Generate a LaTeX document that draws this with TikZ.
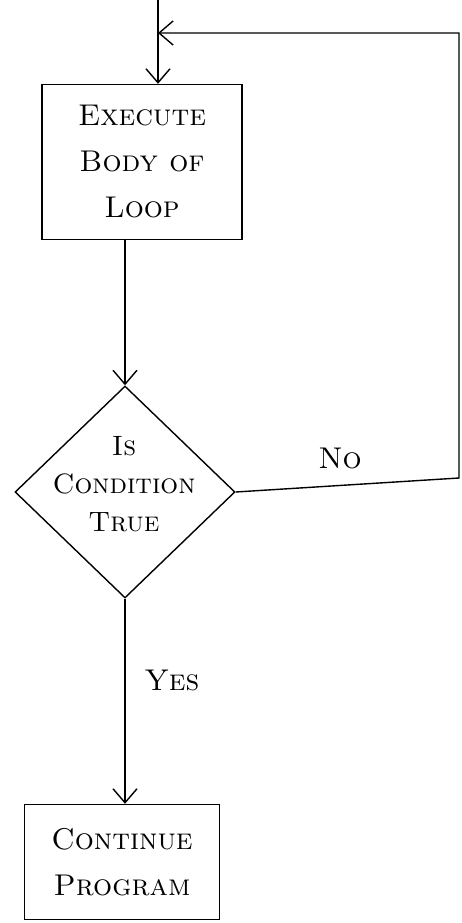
\documentclass[tikz,border=0pt]{standalone}
\usepackage{fontspec}
\usepackage{tikz}
\usetikzlibrary{
    shapes.geometric,
    arrows.meta,
    positioning,
    calc
}

\begin{document}
\begin{tikzpicture}[
        x=1pt, y=-1pt,
        box/.style={rectangle, draw, line width=1.4pt, inner sep=0pt, align=center},
        decision/.style={diamond, draw, line width=1.4pt, inner sep=0pt, minimum width=220pt, minimum height=212pt},
        hand/.style={font=\fontsize{30}{46}\selectfont\scshape, align=center},
        arrow/.style={-{Straight Barb[length=14pt, width=24pt, line width=1.4pt]}, line width=1.4pt},
        line/.style={line width=1.4pt}
    ]
        \useasboundingbox (0,0) rectangle (461,923);

        % Loop body
        \coordinate (top) at (158,0);
        \coordinate (join) at (158,33);
        \node[box, hand, minimum width=200pt, minimum height=155pt] (exec) at (142,162) {Execute\\Body of\\Loop};

        % Test
        \node[decision] (cond) at (125,492) {};
        \node[hand, font=\fontsize{28}{38}\selectfont\scshape] (condtxt) at (124,484) {Is\\Condition\\True};

        % Exit
        \node[box, hand, minimum width=195pt, minimum height=115pt] (cont) at (122,862) {Continue\\Program};

        % Labels
        \node[hand] (no) at (340,458) {No};
        \node[hand] (yes) at (172,680) {Yes};

        % Corner of the loop back
        \coordinate (corner) at (459,478);

        % Arrows
        \draw[arrow] (top) -- (top |- exec.north);
        \draw[arrow] (cond.north |- exec.south) -- (cond.north);
        \draw[arrow] (cond.south) -- (cond.south |- cont.north);
        \draw[arrow] (cond.east) -- (corner) |- (join);
    \end{tikzpicture}
\end{document}
